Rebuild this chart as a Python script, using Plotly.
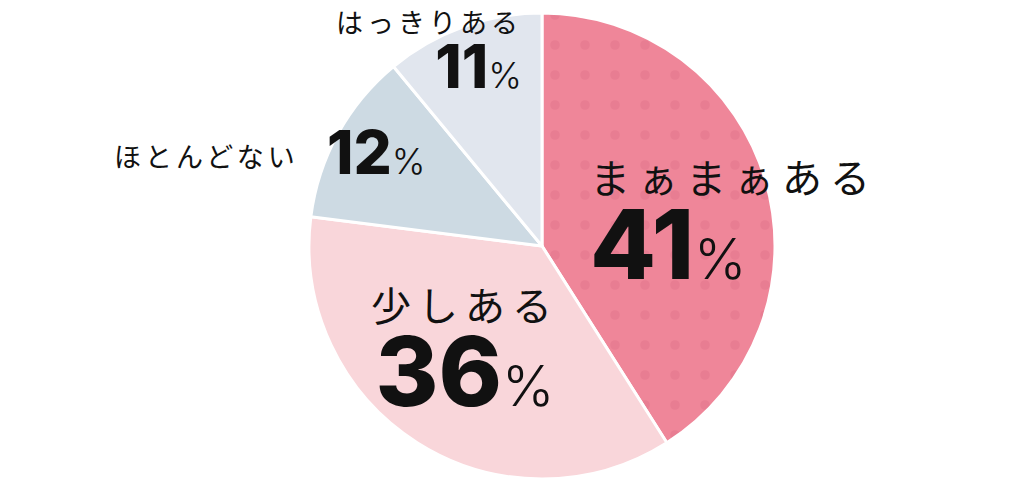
import plotly.graph_objects as go

labels = ["まぁまぁある", "少しある", "ほとんどない", "はっきりある"]
values = [41, 36, 12, 11]
colors = ["#ef8699", "#f9d6da", "#cddae3", "#e1e6ee"]

W, H = 1024, 484

fig = go.Figure()
fig.add_trace(
    go.Pie(
        labels=labels,
        values=values,
        sort=False,
        direction="clockwise",
        rotation=0,
        textinfo="none",
        hoverinfo="label+percent",
        marker=dict(
            colors=colors,
            line=dict(color="white", width=3),
            pattern=dict(
                shape=[".", "", "", ""],
                fgcolor=["#e87d92", colors[1], colors[2], colors[3]],
                bgcolor=colors,
                size=30,
                solidity=0.08,
            ),
        ),
        domain=dict(x=[309 / W, 775 / W], y=[5 / H, 471 / H]),
        showlegend=False,
    )
)

JP = "Noto Sans CJK JP"
NUM = "Inter"


def px(x, y):
    return x / W, 1 - y / H


def lab_span(text, size, spacing):
    return (f"<span style='font-family:{JP};font-size:{size}px;"
            f"letter-spacing:{spacing}px'>{text}</span>")


def pct_span(val, size, psize):
    return (f"<span style='font-family:{NUM};font-size:{size}px;font-weight:800'>{val}</span>"
            f"<span style='font-family:{NUM};font-size:{psize}px;font-weight:300'>%</span>")


# slice text: (x, y, xanchor, align, line base size, label size, spacing, number size, % size)
stacked = {
    0: (588, 225, "left", "left", 66, 40, 8, 96, 56),
    1: (465, 352, "center", "center", 65, 40, 7, 96, 56),
    3: (524, 52, "right", "right", 42, 27, 4, 60, 36),
}

for i, (x0, y0, xa, al, base, ls, sp, ns, ps) in stacked.items():
    x, y = px(x0, y0)
    fig.add_annotation(
        x=x, y=y, xref="paper", yref="paper", xanchor=xa, yanchor="middle", align=al,
        text=lab_span(labels[i], ls, sp) + "<br>" + pct_span(values[i], ns, ps),
        showarrow=False, font=dict(family=JP, size=base, color="#111111"),
    )

# ほとんどない: label to the left of its percentage
x, y = px(206, 155)
fig.add_annotation(
    x=x, y=y, xref="paper", yref="paper", xanchor="center", yanchor="middle",
    text=lab_span(labels[2], 27, 4),
    showarrow=False, font=dict(family=JP, size=27, color="#111111"),
)
x, y = px(376, 152)
fig.add_annotation(
    x=x, y=y, xref="paper", yref="paper", xanchor="center", yanchor="middle",
    text=pct_span(values[2], 60, 36),
    showarrow=False, font=dict(family=NUM, size=60, color="#111111"),
)

fig.update_layout(
    width=W,
    height=H,
    margin=dict(l=0, r=0, t=0, b=0),
    paper_bgcolor="white",
    plot_bgcolor="white",
)

fig.write_html(
    "out.html",
    config={"displayModeBar": False},
    post_script="document.body.style.margin='0';",
)
